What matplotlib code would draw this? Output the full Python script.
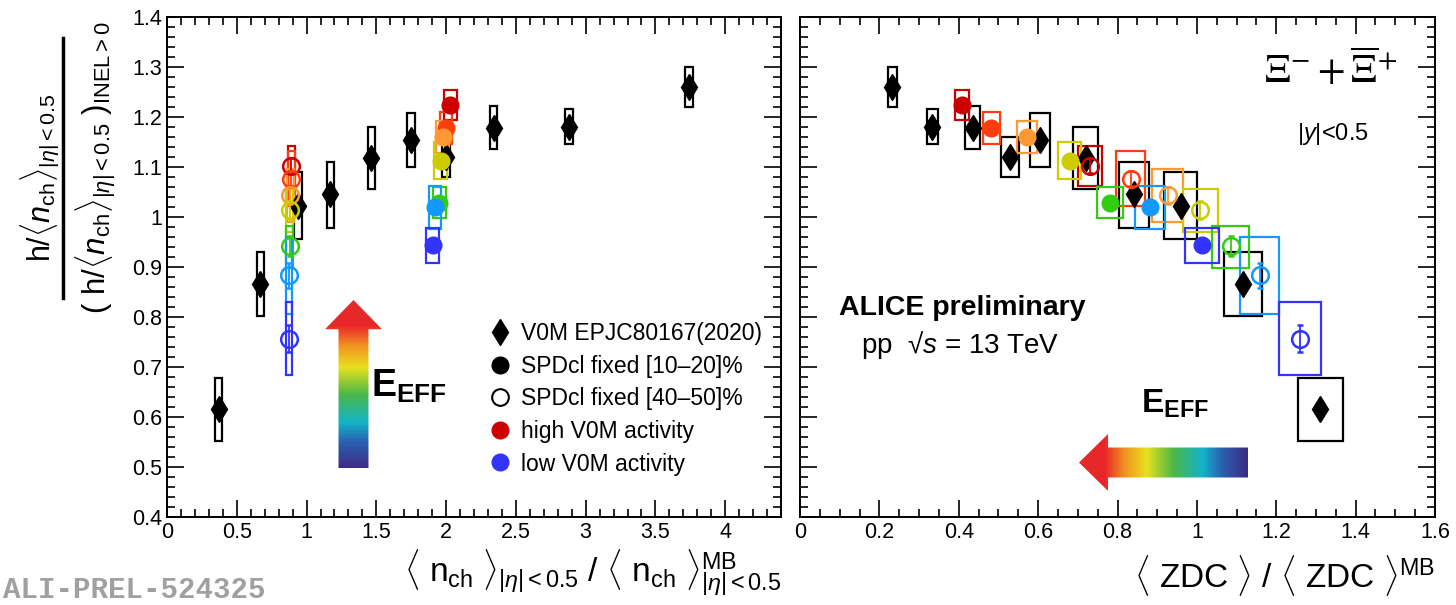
import numpy as np
import matplotlib
matplotlib.use('Agg')
import matplotlib.pyplot as plt
from matplotlib.patches import Rectangle, Polygon
from matplotlib.lines import Line2D
from matplotlib.colors import LinearSegmentedColormap
from matplotlib.ticker import MultipleLocator

plt.rcParams['font.family'] = ['Liberation Sans', 'DejaVu Sans']
plt.rcParams['mathtext.fontset'] = 'custom'
plt.rcParams['mathtext.rm'] = 'Liberation Sans'
plt.rcParams['mathtext.it'] = 'Liberation Sans:italic'
plt.rcParams['mathtext.bf'] = 'Liberation Sans:bold'
plt.rcParams['mathtext.sf'] = 'Liberation Sans'

# V0M classes (EPJC80167), low -> high multiplicity
v0m_nch = [0.37, 0.67, 0.94, 1.17, 1.465, 1.75, 2.0, 2.34, 2.88, 3.74]
v0m_zdc = [1.311, 1.116, 0.959, 0.842, 0.72, 0.605, 0.529, 0.435, 0.333, 0.233]
v0m_y = [0.616, 0.866, 1.022, 1.045, 1.118, 1.154, 1.12, 1.178, 1.18, 1.26]
v0m_stat = [0.012, 0.012, 0.012, 0.012, 0.012, 0.012, 0.01, 0.01, 0.01, 0.01]
v0m_sys = [0.063, 0.064, 0.067, 0.066, 0.062, 0.054, 0.04, 0.043, 0.035, 0.04]
v0m_zdc_sys = [0.057, 0.048, 0.041, 0.037, 0.031, 0.025, 0.023, 0.019, 0.014, 0.011]

# V0M activity colours, high -> low
colors = ['#cc0000', '#ff3d0f', '#ff9933', '#cccc00', '#33cc11', '#1199ff', '#3333ff']

# SPDcl fixed [10-20]% (filled)
f_nch = [2.03, 2.0, 1.976, 1.96, 1.952, 1.92, 1.904]
f_zdc = [0.409, 0.482, 0.572, 0.68, 0.781, 0.881, 1.012]
f_y = [1.224, 1.177, 1.16, 1.112, 1.028, 1.019, 0.943]
f_stat = [0.012, 0.012, 0.012, 0.012, 0.012, 0.012, 0.012]
f_sys = [0.03, 0.032, 0.032, 0.037, 0.031, 0.042, 0.035]
f_zdc_sys = [0.018, 0.021, 0.025, 0.029, 0.032, 0.038, 0.043]

# SPDcl fixed [40-50]% (open)
o_nch = [0.892, 0.89, 0.885, 0.88, 0.88, 0.875, 0.875]
o_zdc = [0.731, 0.833, 0.926, 1.009, 1.085, 1.158, 1.26]
o_y = [1.102, 1.076, 1.043, 1.013, 0.941, 0.883, 0.756]
o_stat = [0.015, 0.015, 0.017, 0.018, 0.02, 0.025, 0.027]
o_sys = [0.04, 0.055, 0.052, 0.043, 0.042, 0.077, 0.073]
o_zdc_sys = [0.031, 0.036, 0.04, 0.044, 0.047, 0.05, 0.054]

nch_sys_v0m = 0.027
nch_sys_f = 0.045
nch_sys_o = 0.024

W, H = 1456, 605
fig = plt.figure(figsize=(W / 100, H / 100), dpi=100)
ax1 = fig.add_axes([167 / W, (H - 517) / H, (781 - 167) / W, 500 / H])
ax2 = fig.add_axes([800 / W, (H - 517) / H, (1435 - 800) / W, 500 / H])


def boxes(ax, xs, ys, dx, dy, col):
    for x, y, ex, ey in zip(xs, ys, dx, dy):
        ax.add_patch(Rectangle((x - ex, y - ey), 2 * ex, 2 * ey, fill=False,
                               edgecolor=col, lw=1.6, zorder=2))


def panel(ax, xv, xf, xo, sx_v, sx_f, sx_o):
    boxes(ax, xv, v0m_y, sx_v, v0m_sys, 'black')
    ax.errorbar(xv, v0m_y, yerr=v0m_stat, fmt='d', color='black', ms=13,
                elinewidth=1.3, capsize=0, zorder=4)
    for i, c in enumerate(colors):
        boxes(ax, [xo[i]], [o_y[i]], [sx_o[i]], [o_sys[i]], c)
        ax.errorbar(xo[i], o_y[i], yerr=o_stat[i], fmt='o', color=c, mfc='none',
                    mew=1.8, ms=12, elinewidth=1.3, capsize=2.5, zorder=5)
        boxes(ax, [xf[i]], [f_y[i]], [sx_f[i]], [f_sys[i]], c)
        ax.errorbar(xf[i], f_y[i], yerr=f_stat[i], fmt='o', color=c, ms=12,
                    elinewidth=1.3, capsize=0, zorder=5)
    ax.set_ylim(0.4, 1.4)
    ax.yaxis.set_major_locator(MultipleLocator(0.1))
    ax.yaxis.set_minor_locator(MultipleLocator(0.02))
    ax.tick_params(which='both', direction='in', top=True, right=True, width=1.2,
                   labelsize=15.5)
    ax.tick_params(which='major', length=12)
    ax.tick_params(which='minor', length=6)
    for s in ax.spines.values():
        s.set_linewidth(1.4)


panel(ax1, v0m_nch, f_nch, o_nch, [nch_sys_v0m] * 10, [nch_sys_f] * 7, [nch_sys_o] * 7)
ax1.set_xlim(0, 4.4)
ax1.xaxis.set_minor_locator(MultipleLocator(0.1))
ax1.set_yticks(np.arange(0.4, 1.41, 0.1))
ax1.set_yticklabels(['0.4', '0.5', '0.6', '0.7', '0.8', '0.9', '1', '1.1', '1.2', '1.3', '1.4'])
ax1.set_xticks(np.arange(0, 4.01, 0.5))
ax1.set_xticklabels(['0', '0.5', '1', '1.5', '2', '2.5', '3', '3.5', '4'])

panel(ax2, v0m_zdc, f_zdc, o_zdc, v0m_zdc_sys, f_zdc_sys, o_zdc_sys)
ax2.set_xlim(0, 1.6)
ax2.set_xticks(np.arange(0, 1.61, 0.2))
ax2.set_xticklabels(['0', '0.2', '0.4', '0.6', '0.8', '1', '1.2', '1.4', '1.6'])
ax2.xaxis.set_minor_locator(MultipleLocator(0.05))
ax2.tick_params(labelleft=False)

# legend
handles = [
    Line2D([], [], ls='none', marker='d', color='black', ms=13),
    Line2D([], [], ls='none', marker='o', color='black', ms=12),
    Line2D([], [], ls='none', marker='o', color='black', mfc='none', mew=1.5, ms=12),
    Line2D([], [], ls='none', marker='o', color=colors[0], ms=12),
    Line2D([], [], ls='none', marker='o', color=colors[6], ms=12),
]
labels = ['V0M EPJC80167(2020)', 'SPDcl fixed [10\u201320]%', 'SPDcl fixed [40\u201350]%',
          'high V0M activity', 'low V0M activity']
ax1.legend(handles, labels, loc='upper left', bbox_to_anchor=(0.528, 0.39),
           frameon=False, fontsize=16.5, handlelength=0.8, handletextpad=0.5,
           labelspacing=0.42, borderpad=0, borderaxespad=0)

# axis titles
fig.text(781 / W, 1 - 598 / H,
         r'$\langle\ \mathrm{n}_{\mathrm{ch}}\ \rangle_{|\eta|<0.5}\ /\ \langle\ \mathrm{n}_{\mathrm{ch}}\ \rangle^{\mathrm{MB}}_{|\eta|<0.5}$',
         ha='right', va='bottom', fontsize=24)
fig.text(1435 / W, 1 - 598 / H, r'$\langle$ ZDC $\rangle$ / $\langle$ ZDC $\rangle^{\mathrm{MB}}$',
         ha='right', va='bottom', fontsize=24)

fig.text(40 / W, 1 - 178 / H, r'h/$\langle n_{\mathrm{ch}}\rangle_{|\eta|<0.5}$',
         rotation=90, ha='center', va='center', fontsize=22)
fig.add_artist(Line2D([63 / W, 63 / W], [1 - 38 / H, 1 - 298 / H],
                      transform=fig.transFigure, color='black', lw=2.5))
fig.text(96 / W, 1 - 168 / H,
         r'$(\ \mathrm{h}/\langle n_{\mathrm{ch}}\rangle_{|\eta|<0.5}\ )_{\mathrm{INEL>0}}$',
         rotation=90, ha='center', va='center', fontsize=22.5)

fig.text(3 / W, 0.002, 'ALI-PREL-524325', family='Liberation Mono', weight='bold',
         color='#a0a0a0', fontsize=21, ha='left', va='bottom')

# right panel labels
ax2.text((1331 - 800) / 635, (517 - 70) / 500, r'$\Xi^{-} + \overline{\Xi}^{+}$',
         transform=ax2.transAxes, ha='center', va='center', fontsize=29,
         math_fontfamily='stix')
ax2.text((1333 - 800) / 635, (517 - 134) / 500, r'$|y|$<0.5', transform=ax2.transAxes,
         ha='center', va='center', fontsize=17)
ax2.text((962 - 800) / 635, (517 - 308) / 500, 'ALICE preliminary', transform=ax2.transAxes,
         ha='center', va='center', fontsize=20.5, weight='bold')
ax2.text((960 - 800) / 635, (517 - 345) / 500, 'pp  \u221a$s$ = 13 TeV', transform=ax2.transAxes,
         ha='center', va='center', fontsize=20)

# E_EFF gradient arrows
cmap = LinearSegmentedColormap.from_list('eff', [
    (0.0, '#3d2b86'), (0.15, '#2b5fb0'), (0.27, '#12b4c8'), (0.44, '#4cb848'),
    (0.6, '#e8e01c'), (0.73, '#f29222'), (0.85, '#e8262a'), (1.0, '#e32b2b')])


def grad_arrow(rect, verts, vertical):
    a = fig.add_axes(rect)
    a.set_axis_off()
    a.set_xlim(0, 1)
    a.set_ylim(0, 1)
    g = np.linspace(0, 1, 256)
    img = g.reshape(-1, 1) if vertical else g[::-1].reshape(1, -1)
    im = a.imshow(img, extent=[0, 1, 0, 1], origin='lower', cmap=cmap, aspect='auto')
    poly = Polygon(verts, closed=True, facecolor='none', edgecolor='none')
    a.add_patch(poly)
    im.set_clip_path(poly)


grad_arrow([325 / W, (H - 468) / H, 57 / W, 168 / H],
           [(0.237, 0), (0.763, 0), (0.763, 0.826), (1, 0.826), (0.5, 1), (0, 0.826), (0.237, 0.826)],
           True)
grad_arrow([1079 / W, (H - 491) / H, 169 / W, 57 / H],
           [(0, 0.5), (0.172, 1), (0.172, 0.763), (1, 0.763), (1, 0.237), (0.172, 0.237), (0.172, 0)],
           False)

fig.text(371 / W, 1 - 397 / H, r'$\mathbf{E}_{\mathbf{EFF}}$', fontsize=27, ha='left', va='baseline')
fig.text(1141 / W, 1 - 413 / H, r'$\mathbf{E}_{\mathbf{EFF}}$', fontsize=24, ha='left', va='baseline')

fig.savefig('out.png', dpi=100)
